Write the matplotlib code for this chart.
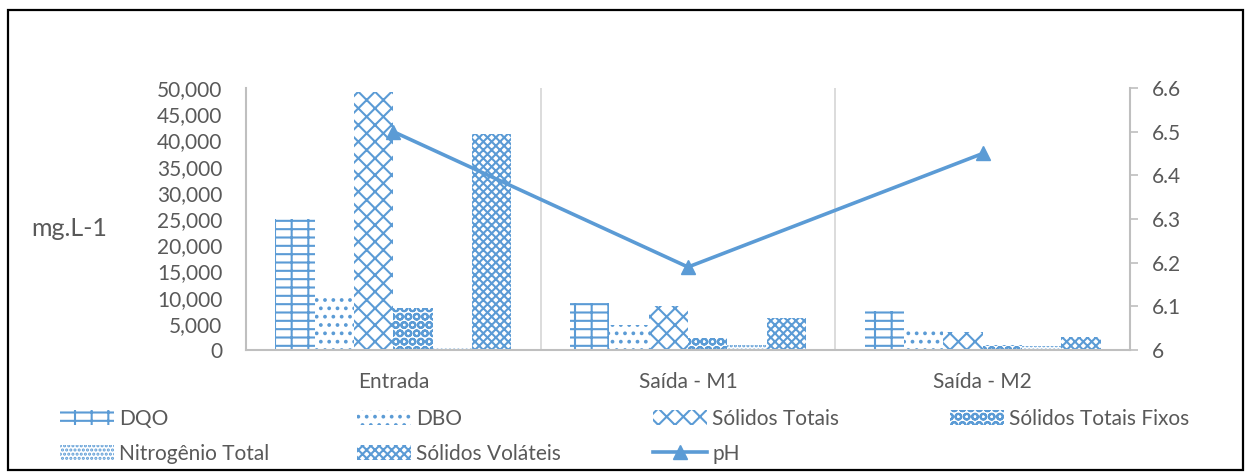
import matplotlib
matplotlib.use("Agg")
import matplotlib.pyplot as plt
from matplotlib.ticker import FuncFormatter, FixedLocator
from matplotlib.patches import Rectangle

plt.rcParams['font.family'] = ['Lato', 'DejaVu Sans']
plt.rcParams['hatch.linewidth'] = 1.5

categories = ["Entrada", "Saída - M1", "Saída - M2"]
series_names = ["DQO", "DBO", "Sólidos Totais", "Sólidos Totais Fixos",
                "Nitrogênio Total", "Sólidos Voláteis"]
dqo = [25000, 9000, 7500]
dbo = [10500, 4800, 4000]
solidos_totais = [49200, 8400, 3500]
solidos_totais_fixos = [8000, 2200, 1000]
nitrogenio_total = [300, 1000, 700]
solidos_volateis = [41300, 6200, 2400]
ph = [6.50, 6.19, 6.45]

series_values = [dqo, dbo, solidos_totais, solidos_totais_fixos,
                 nitrogenio_total, solidos_volateis]
hatches = ['--|', '..', 'xx', 'OO', '....', 'xxxx']

blue = '#5B9BD5'
grey_text = '#595959'
axis_grey = '#BFBFBF'
fs = 15

fig = plt.figure(figsize=(12.47, 4.73), dpi=100)
ax = fig.add_axes([246 / 1247, 1 - 350 / 473, (1130 - 246) / 1247, (350 - 88) / 473])
ax2 = ax.twinx()

x = list(range(len(categories)))
w = 0.1335
bars = []
for i, (name, vals, h) in enumerate(zip(series_names, series_values, hatches)):
    xs = [xi + (i - 2.5) * w for xi in x]
    b = ax.bar(xs, vals, width=w, facecolor='white', edgecolor=blue,
               hatch=h, linewidth=0, label=name, zorder=2)
    bars.append(b)

line, = ax2.plot(x, ph, color=blue, lw=2.6, marker='^', markersize=10,
                 label='pH', zorder=3)

ax.set_xlim(-0.5, 2.5)
ax.set_ylim(0, 50000)
ax.set_yticks(range(0, 50001, 5000))
ax.yaxis.set_major_formatter(FuncFormatter(lambda v, p: f"{int(v):,}"))
ax2.set_ylim(6.0, 6.6)
ax2.set_yticks([6.0, 6.1, 6.2, 6.3, 6.4, 6.5, 6.6])
ax2.yaxis.set_major_formatter(FuncFormatter(lambda v, p: f"{round(v, 1):g}"))

ax.set_xticks(x)
ax.set_xticklabels(categories)
ax.xaxis.set_minor_locator(FixedLocator([0.5, 1.5]))
ax.grid(True, which='minor', axis='x', color='#D9D9D9', lw=1.3, zorder=0)
ax.tick_params(axis='x', which='both', length=0, pad=16, labelsize=fs,
               labelcolor=grey_text)
ax.tick_params(axis='y', length=0, pad=17, labelsize=fs, labelcolor=grey_text)
ax2.tick_params(axis='y', length=6, width=1.2, color=axis_grey, direction='out',
                pad=10, labelsize=fs, labelcolor=grey_text)

for a in (ax, ax2):
    a.spines['top'].set_visible(False)
    for s in ('left', 'right', 'bottom'):
        a.spines[s].set_color(axis_grey)
        a.spines[s].set_linewidth(1.5)
ax.spines['right'].set_visible(False)
ax2.spines['left'].set_visible(False)
ax2.spines['bottom'].set_visible(False)

fig.text(31 / 1247, 1 - 229 / 473, "mg.L-1", fontsize=18, color=grey_text,
         va='center', ha='left')

# legend: four columns at fixed positions
columns = [
    ([bars[0], bars[4]], [series_names[0], series_names[4]], 60),
    ([bars[1], bars[5]], [series_names[1], series_names[5]], 357),
    ([bars[2], line], [series_names[2], 'pH'], 653),
    ([bars[3]], [series_names[3]], 950),
]
for handles, labels, xpix in columns:
    leg = fig.legend(handles, labels, loc='upper left',
                     bbox_to_anchor=(xpix / 1247, 1 - 409 / 473),
                     frameon=False, borderpad=0, borderaxespad=0,
                     handlelength=2.6, handleheight=0.7, handletextpad=0.25,
                     labelspacing=0.7, fontsize=fs, labelcolor=grey_text)

fig.patches.append(Rectangle((8 / 1247, 3 / 473), 1235 / 1247, 460 / 473,
                             transform=fig.transFigure, fill=False,
                             edgecolor='black', linewidth=1.6))

fig.savefig("out.png", dpi=100)
